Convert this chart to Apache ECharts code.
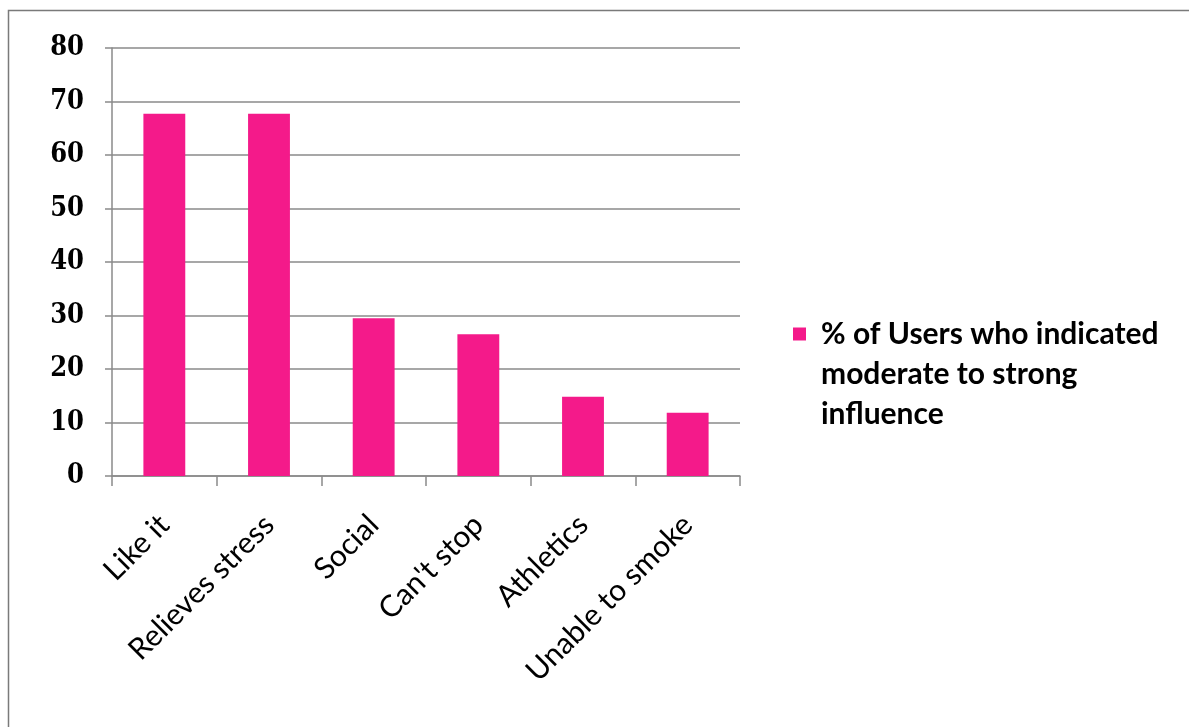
<!DOCTYPE html>
<html>
<head>
<meta charset="utf-8">
<style>
	html, body { margin: 0; padding: 0; background: #fff; }
	#chart { width: 1189px; height: 727px; }
</style>
<script src="https://cdn.jsdelivr.net/npm/echarts@6/dist/echarts.min.js"></script>
</head>
<body>
<div id="chart"></div>
<script>
// data
const categories = ['Like it', 'Relieves stress', 'Social', "Can't stop", 'Athletics', 'Unable to smoke']
const userPercent = [67.7, 67.7, 29.5, 26.5, 14.8, 11.8]
const seriesName = '% of Users who indicated moderate to strong influence'
const legendLines = ['% of Users who indicated', 'moderate to strong', 'influence']

const pink = '#F41A8A'
const axisGray = '#8a8a8a'
const legendLineHeight = 40

const chart = echarts.init(document.getElementById('chart'))

const option = {
	animation: false,
	backgroundColor: '#fff',
	graphic: [{
		// outer frame, only top and left edges are inside the picture
		type: 'rect',
		shape: { x: 8.5, y: 10.5, width: 1200, height: 760 },
		style: { fill: 'none', stroke: '#7a7a7a', lineWidth: 1.5 },
		silent: true
	}],
	legend: {
		show: true,
		orient: 'vertical',
		left: 793,
		top: 234,
		padding: 0,
		icon: 'rect',
		itemWidth: 13,
		itemHeight: 13,
		// two leading empty lines so the icon (centred on the block) sits on the first text line
		formatter: () => '\n\n' + legendLines.join('\n'),
		textStyle: {
			fontFamily: 'Lato',
			fontWeight: 'bold',
			fontSize: 30,
			color: '#000',
			lineHeight: legendLineHeight,
			padding: [0, 0, 0, 10]
		}
	},
	grid: {
		left: 112,
		top: 48,
		right: 449,
		bottom: 251,
		containLabel: false
	},
	xAxis: {
		type: 'category',
		data: categories,
		axisLine: { lineStyle: { color: axisGray, width: 1.5 } },
		axisTick: {
			show: true,
			alignWithLabel: false,
			length: 10,
			lineStyle: { color: axisGray, width: 1.5 }
		},
		axisLabel: {
			rotate: 45,
			interval: 0,
			margin: 44,
			fontFamily: 'Lato',
			fontSize: 30,
			color: '#000'
		}
	},
	yAxis: {
		type: 'value',
		min: 0,
		max: 80,
		interval: 10,
		axisLine: { show: true, lineStyle: { color: axisGray, width: 1.5 } },
		axisTick: { show: true, inside: false, length: 7, lineStyle: { color: axisGray, width: 1.5 } },
		splitLine: { show: true, lineStyle: { color: axisGray, width: 1.5 } },
		axisLabel: {
			margin: 28,
			fontFamily: '"DejaVu Serif Condensed", "DejaVu Serif"',
			fontWeight: 'bold',
			fontSize: 27,
			color: '#000'
		}
	},
	series: [{
		name: seriesName,
		type: 'bar',
		data: userPercent,
		barWidth: '40%',
		itemStyle: { color: pink }
	}]
}

chart.setOption(option)
</script>
</body>
</html>
